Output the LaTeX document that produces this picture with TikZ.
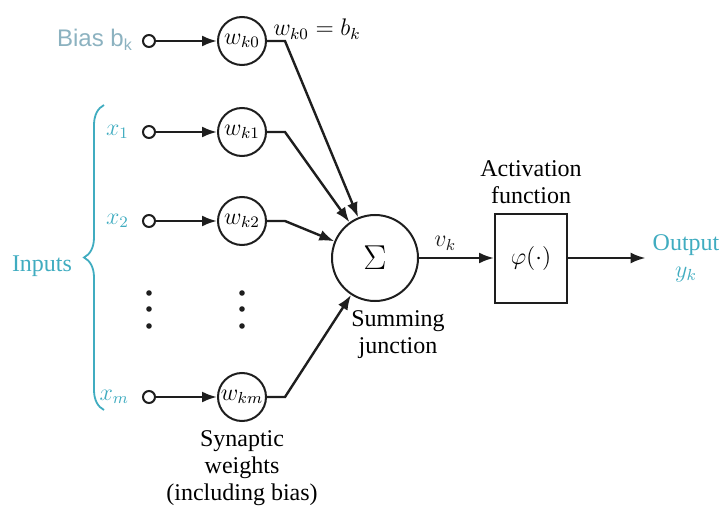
\documentclass[tikz,border=0pt]{standalone}
\usepackage{amsmath, amssymb}
\usepackage{fontspec}
\setmainfont{Liberation Serif}
\newfontfamily\biasfont{Liberation Sans}
\usepackage{xcolor}
\usepackage{tikz}
\usetikzlibrary{arrows.meta, positioning, decorations.pathreplacing}
\definecolor{inputcyan}{RGB}{64, 172, 192}
\definecolor{biasgray}{RGB}{140, 178, 192}
\definecolor{linegray}{RGB}{30, 30, 30}

\begin{document}
\begin{tikzpicture}[x=0.5pt, y=-0.5pt, >={Latex[length=7.5pt, width=5.5pt]},
    font=\fontsize{12}{13.5}\selectfont,
    weight/.style={circle, draw=linegray, line width=1pt, minimum size=24pt, inner sep=0pt},
    terminal/.style={circle, draw=linegray, line width=1pt, minimum size=6pt, inner sep=0pt, fill=white},
    signal/.style={->, linegray, line width=1.2pt},
    dotmark/.style={circle, fill=linegray, minimum size=2.8pt, inner sep=0pt}]

    \useasboundingbox (0,0) rectangle (723,508);

    % Bias input
    \node[text=biasgray, font=\biasfont\fontsize{12}{13.5}\selectfont] at (95,40) (biaslabel) {Bias b\textsubscript{k}};
    \node[terminal] at (149,41) (t0) {};
    \node[weight] at (242,41) (w0) {$w_{k0}$};
    \node at (317,29) (eqlabel) {$w_{k0} = b_k$};

    % Inputs
    \node[terminal] at (149,132) (t1) {};
    \node[terminal] at (149,221) (t2) {};
    \node[terminal] at (149,397) (tm) {};
    \node[text=inputcyan, left=3pt of t1] (x1) {$x_1$};
    \node[text=inputcyan, left=3pt of t2] (x2) {$x_2$};
    \node[text=inputcyan, left=3pt of tm] (xm) {$x_m$};

    % Synaptic weights
    \node[weight] at (242,132) (w1) {$w_{k1}$};
    \node[weight] at (242,221) (w2) {$w_{k2}$};
    \node[weight] at (242,397) (wm) {$w_{km}$};

    % Dots
    \foreach \y [count=\n] in {293, 309, 326} {
        \node[dotmark] at (149,\y) (da\n) {};
        \node[dotmark] at (242,\y) (db\n) {};
    }

    % Brace round the inputs
    \coordinate (bracetop) at (104,105);
    \coordinate (bracebot) at (104,410);
    \draw[inputcyan, line width=0.9pt, decorate, decoration={brace, amplitude=10pt}] (bracebot) -- (bracetop);
    \node[text=inputcyan] at (42,266) (inputs) {Inputs};

    % Summing junction and activation
    \node[circle, draw=linegray, line width=1pt, minimum size=43pt, inner sep=0pt] at (375,258) (sum) {\fontsize{16}{16}\selectfont$\Sigma$};
    \node[align=center] at (398,335) (sumlabel) {Summing\\junction};
    \node[draw=linegray, line width=1pt, minimum width=36pt, minimum height=44.5pt] at (531,258) (act) {$\varphi(\cdot)$};
    \node[above=1pt of act, align=center] (actlabel) {Activation\\function};
    \node[text=inputcyan, align=center] at (686,258) (out) {Output\\$y_k$};
    \node[below=1pt of wm, align=center] (synlabel) {Synaptic\\weights\\(including bias)};

    % Arrows into and out of the weights
    \foreach \i in {0, 1, 2, m} {
        \draw[signal] (t\i) -- (w\i);
        \draw[signal] (w\i.east) -- ++(18,0) -- (sum);
    }

    % Arrows to the output
    \draw[signal] (sum) -- node[above, pos=0.35] {$v_k$} (act);
    \draw[signal] (act) -- (out);

\end{tikzpicture}
\end{document}
